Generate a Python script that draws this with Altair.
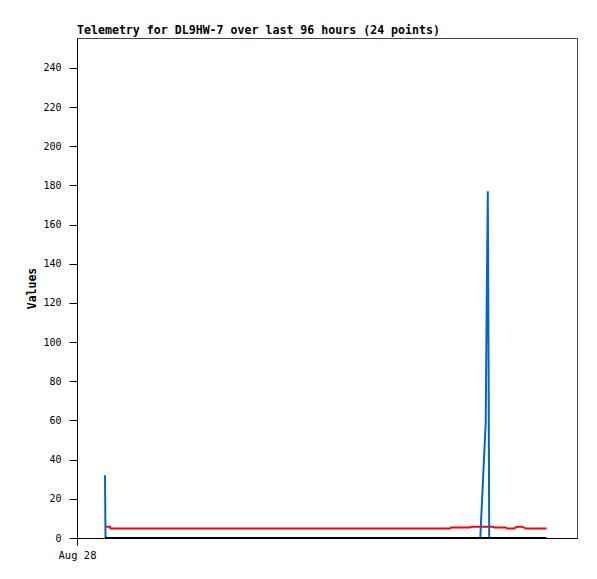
import altair as alt
import pandas as pd

# hours since Aug 28 00:00
blue_t = [5.6, 5.7, 80.66, 81.74, 81.94, 82.16, 82.32, 82.44, 93.8]
blue_v = [32, 0, 0, 59, 120, 177, 88, 0, 0]

red_t = [5.7, 6.6, 6.7, 74.6, 74.8, 78.6, 78.8, 83.2, 83.4, 85.8, 86.0,
         87.4, 88.0, 89.0, 89.8, 93.9]
red_v = [5.8, 5.8, 4.8, 4.8, 5.3, 5.3, 5.8, 5.8, 5.3, 5.3, 4.8,
         4.8, 5.8, 5.8, 4.8, 4.8]

black_t = [5.6, 93.9]
black_v = [0, 0]

y_ticks = [0, 20, 40, 60, 80, 100, 120, 140, 160, 180, 200, 220, 240]
x_ticks = [0]
x_tick_labels = ["Aug 28"]

title_text = "Telemetry for DL9HW-7 over last 96 hours (24 points)"

blue = pd.DataFrame({"t": blue_t, "v": blue_v})
red = pd.DataFrame({"t": red_t, "v": red_v})
black = pd.DataFrame({"t": black_t, "v": black_v})

label_expr = "datum.value == 0 ? '" + x_tick_labels[0] + "' : ''"

x_enc = alt.X(
    "t:Q",
    scale=alt.Scale(domain=[0, 100], nice=False, zero=False),
    axis=alt.Axis(
        values=x_ticks, labelExpr=label_expr, title=None, grid=False,
        tickSize=7, labelPadding=5, labelFont="DejaVu Sans Mono",
        labelFontSize=10.5, labelColor="black", domainColor="black",
        tickColor="black", labelAlign="center", labelFlush=False,
    ),
)
y_enc = alt.Y(
    "v:Q",
    scale=alt.Scale(domain=[0, 255.3], nice=False),
    axis=alt.Axis(
        values=y_ticks, title="Values", grid=False, tickSize=8,
        labelPadding=8, labelFont="DejaVu Sans Mono", labelFontSize=10,
        labelColor="black", titleFont="DejaVu Sans Mono", titleFontSize=11.5,
        titleFontWeight="bold", titleColor="black", titlePadding=5,
        domainColor="black", tickColor="black",
    ),
)

def line(df, color):
    return alt.Chart(df).mark_line(color=color, strokeWidth=2, interpolate="linear").encode(
        x=x_enc, y=y_enc
    )

chart = alt.layer(
    line(red, "#FF0000"),
    line(blue, "#0066CC"),
    line(black, "#000000"),
).properties(
    width=500,
    height=500,
    title=alt.TitleParams(
        title_text, anchor="start", frame="group", font="DejaVu Sans Mono",
        fontSize=11.6, fontWeight="bold", color="black", offset=1,
    ),
    autosize=alt.AutoSizeParams(type="none"),
    padding={"left": 69, "top": 30, "right": 12, "bottom": 33},
).configure_view(stroke="#444444", strokeWidth=1)

chart.save("out.html", embed_options={"renderer": "svg", "actions": False})
